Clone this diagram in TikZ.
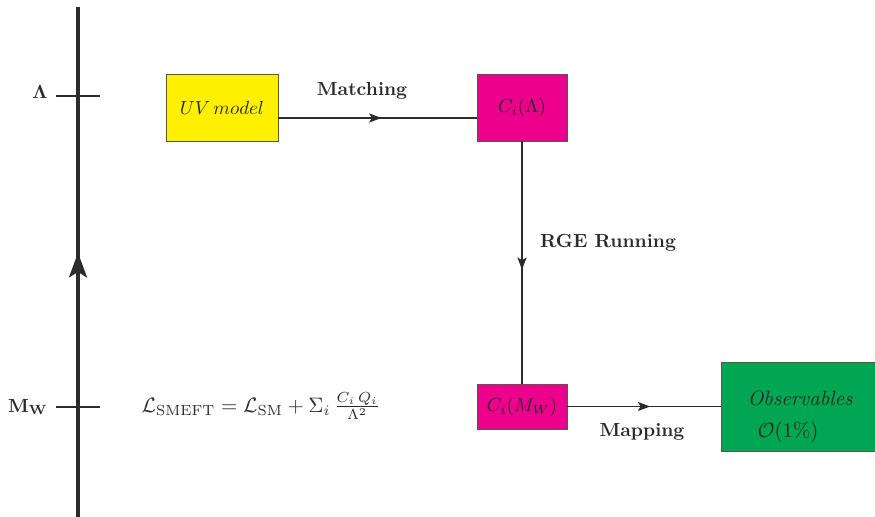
\documentclass[tikz,border=0pt]{standalone}
\usepackage{amsmath}
\usetikzlibrary{arrows.meta,decorations.markings}
\definecolor{uvyellow}{HTML}{FFF000}
\definecolor{cmag}{HTML}{EC008C}
\definecolor{obsgreen}{HTML}{00A651}
\definecolor{ink}{HTML}{2B2B2B}
\definecolor{boxline}{HTML}{555555}
\tikzset{
  box/.style={draw=boxline, line width=0.45pt, text=ink, inner sep=0pt, anchor=center},
  conn/.style={draw=ink, line width=0.6pt},
  midarrow/.style={postaction={decorate}, decoration={markings,
      mark=at position #1 with {\arrow{Stealth[length=6.5pt,width=4.8pt,inset=1.5pt]}}}},
  bigarrow/.style={postaction={decorate}, decoration={markings,
      mark=at position #1 with {\arrow{Stealth[length=13pt,width=9.5pt,inset=3pt]}}}},
  lbl/.style={text=ink, font=\bfseries},
  tick/.style={draw=ink, line width=0.6pt},
}
\begin{document}
\begin{tikzpicture}[x=0.5263pt, y=-0.5263pt]
  \useasboundingbox (0,0) rectangle (875,517);

  % energy axis
  \coordinate (axtop) at (78,7);
  \coordinate (axbot) at (78,517);
  \draw[ink, line width=1.6pt, bigarrow=0.518] (axbot) -- (axtop);

  % scale ticks
  \coordinate (tLa) at (56,96);  \coordinate (tLb) at (100,96);
  \coordinate (tMa) at (56,407); \coordinate (tMb) at (100,407);
  \draw[tick] (tLa) -- (tLb);
  \draw[tick] (tMa) -- (tMb);
  \node[text=ink] (lam) at (40,92) {$\boldsymbol{\Lambda}$};
  \node[text=ink] (mw) at (28,407) {$\mathbf{M_W}$};

  % boxes
  \node[box, fill=uvyellow, minimum width=58.9pt, minimum height=35.3pt] (uv) at (222,107.5) {$UV\,model$};
  \node[box, fill=cmag, minimum width=47.4pt, minimum height=35.3pt] (cl) at (522,107.5) {$C_i(\Lambda)$};
  \node[box, fill=cmag, minimum width=47.4pt, minimum height=23.7pt] (cm) at (522,406.5) {$C_i(M_W)$};
  \node[box, fill=obsgreen, minimum width=81pt, minimum height=46.8pt] (obs) at (798,406.5) {};
  \node[text=ink, scale=1.09] (obsa) at (801,398) {$\mathit{Observables}$};
  \node[text=ink, scale=1.09] (obsb) at (788,432) {$\mathcal{O}(1\%)$};

  % lagrangian
  \node[text=ink, scale=1.1] (lag) at (261,406) {$\mathcal{L}_{\text{SMEFT}} = \mathcal{L}_{\text{SM}} + \Sigma_i\,\frac{C_i\,Q_i}{\Lambda^2}$};

  % connectors
  \coordinate (m1) at (uv.east |- 0,118);
  \coordinate (m2) at (cl.west |- 0,118);
  \draw[conn, midarrow=0.52] (m1) -- (m2);
  \node[lbl] (matching) at (362,91) {Matching};

  \draw[conn, midarrow=0.53] (cl.south) -- (cm.north);
  \node[lbl] (rge) at (608,243) {RGE Running};

  \draw[conn, midarrow=0.54] (cm.east) -- (obs.west);
  \node[lbl] (mapping) at (642,432) {Mapping};
\end{tikzpicture}
\end{document}
